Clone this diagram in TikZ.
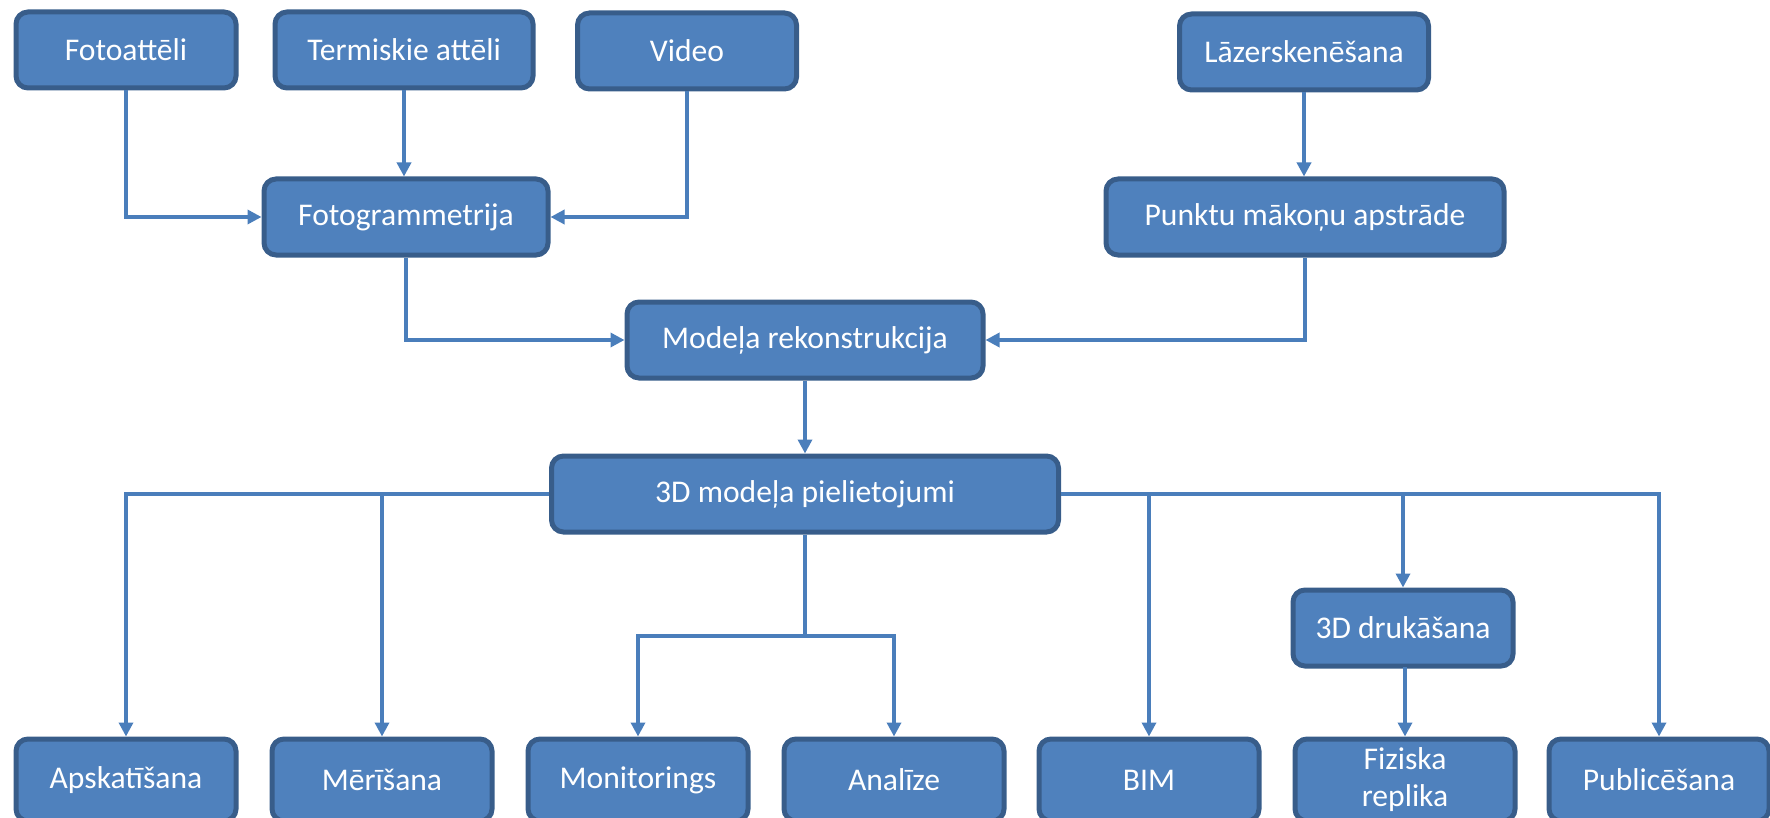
\documentclass[tikz,border=0pt]{standalone}
\usepackage{fontspec}
\setmainfont{Carlito}
\usepackage{xcolor}
\usetikzlibrary{positioning, arrows.meta, calc}

\definecolor{boxfill}{HTML}{4F81BD}
\definecolor{boxline}{HTML}{385D8A}
\definecolor{linkblue}{HTML}{4A7EBB}

\begin{document}
\begin{tikzpicture}[
                x=0.5pt, y=-0.5pt,
                font=\fontsize{15.8}{18.5}\selectfont,
                stage_box/.style={rectangle, fill=boxfill, draw=boxline, line width=2.5pt, rounded corners=6pt,
                    text=white, align=center, inner sep=2pt, minimum height=38pt},
                use_box/.style={stage_box, minimum width=110pt, minimum height=41pt},
                link/.style={draw=linkblue, line width=1.7pt},
                flow/.style={link, -{Triangle[length=7pt, width=7pt]}}
            ]
                \useasboundingbox (0,0) rectangle (1770,818);

                % Sources
                \node[stage_box, minimum width=110pt] (foto) at (126,50) {Fotoattēli};
                \node[stage_box, minimum width=129pt] (termo) at (404,50) {Termiskie attēli};
                \node[stage_box, minimum width=109.5pt] (video) at (687,51) {Video};
                \node[stage_box, minimum width=124.5pt] (lazer) at (1304,52) {Lāzerskenēšana};

                % Processing
                \node[stage_box, minimum width=142pt] (fotogr) at (406,217) {Fotogrammetrija};
                \node[stage_box, minimum width=199pt] (punkti) at (1305,217) {Punktu mākoņu apstrāde};
                \node[stage_box, minimum width=178pt] (rekon) at (805,340) {Modeļa rekonstrukcija};
                \node[stage_box, minimum width=253.5pt] (pielie) at (805,494) {3D modeļa pielietojumi};
                \node[stage_box, minimum width=110pt] (druka) at (1403,628) {3D drukāšana};

                % Uses
                \node[use_box] (apsk) at (126,780) {Apskatīšana};
                \node[use_box] (meri) at (382,780) {Mērīšana};
                \node[use_box] (monit) at (638,780) {Monitorings};
                \node[use_box] (anal) at (894,780) {Analīze};
                \node[use_box] (bim) at (1149,780) {BIM};
                \node[use_box] (repl) at (1405,780) {Fiziska\\replika};
                \node[use_box] (publ) at (1659,780) {Publicēšana};

                % Inputs to photogrammetry and point clouds
                \draw[flow] (foto.south) |- (fotogr.west);
                \draw[flow] (termo.south) -- (termo.south |- fotogr.north);
                \draw[flow] (video.south) |- (fotogr.east);
                \draw[flow] (lazer.south) -- (lazer.south |- punkti.north);

                % Reconstruction
                \draw[flow] (fotogr.south) |- (rekon.west);
                \draw[flow] (punkti.south) |- (rekon.east);
                \draw[flow] (rekon.south) -- (pielie.north);

                % Left branch
                \draw[flow] (pielie.west) -| (apsk.north);
                \draw[flow] (meri.north |- pielie.west) -- (meri.north);

                % Middle branch
                \coordinate (split) at (805,636);
                \draw[link] (pielie.south) -- (split);
                \draw[flow] (split) -| (monit.north);
                \draw[flow] (split) -| (anal.north);

                % Right branch
                \draw[flow] (pielie.east) -| (publ.north);
                \draw[flow] (bim.north |- pielie.east) -- (bim.north);
                \draw[flow] (druka.north |- pielie.east) -- (druka.north);
                \draw[flow] (druka.south) -- (druka.south -| repl.north) -- (repl.north);

            \end{tikzpicture}
\end{document}
